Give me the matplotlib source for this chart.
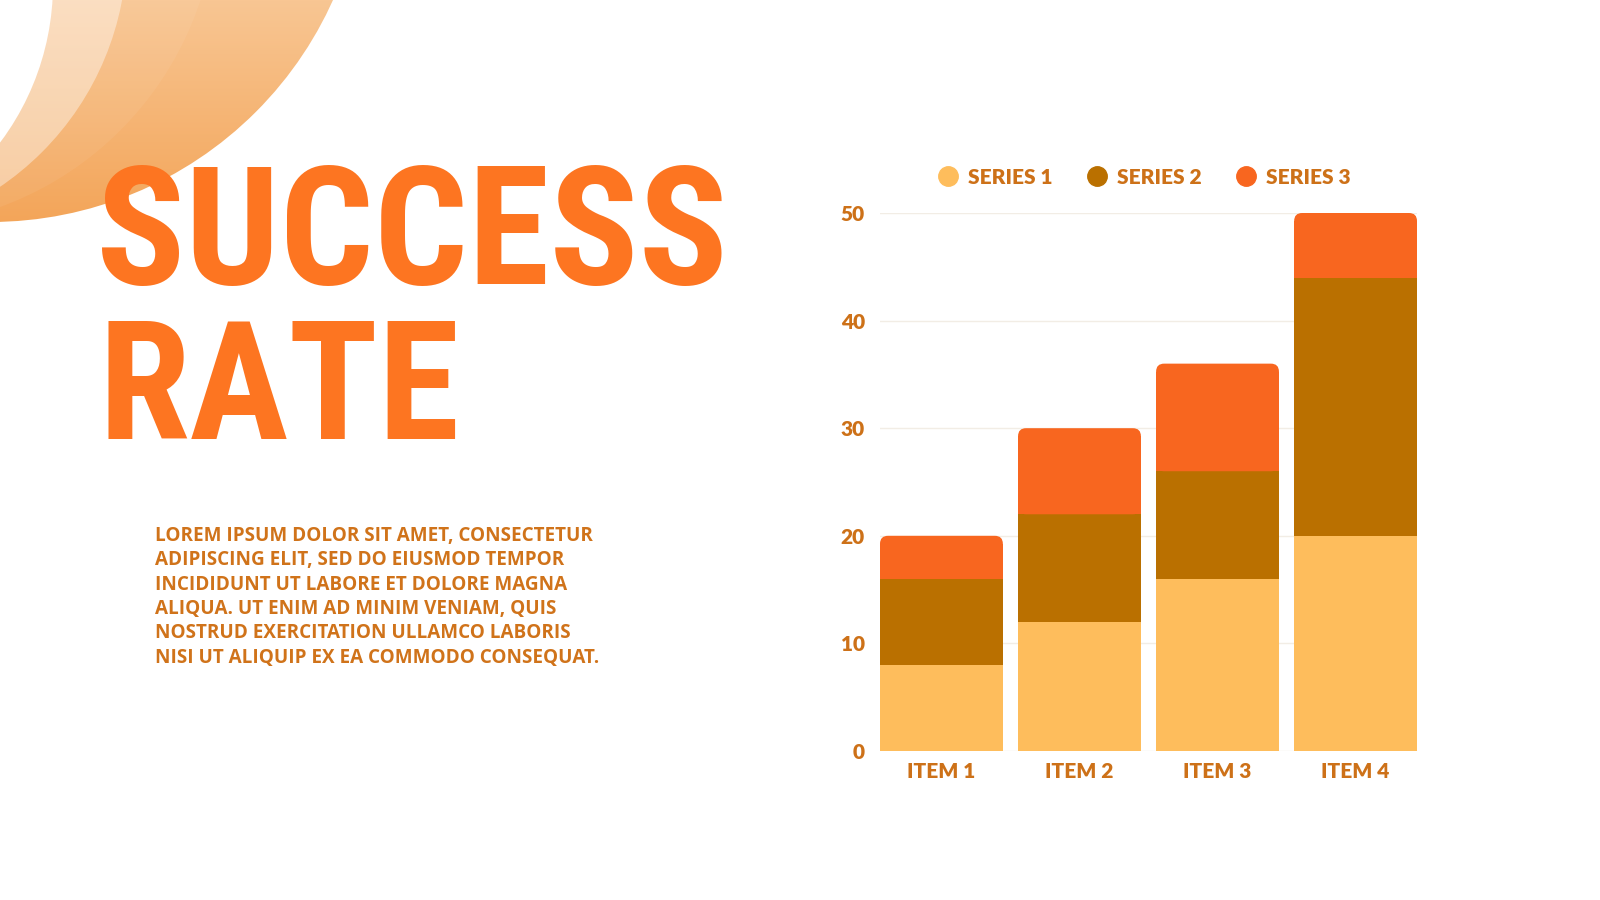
import numpy as np
import matplotlib
matplotlib.use("Agg")
import matplotlib.pyplot as plt
from matplotlib import font_manager as fm
from matplotlib.patches import Circle, FancyBboxPatch
from matplotlib.lines import Line2D

# data
items = ["ITEM 1", "ITEM 2", "ITEM 3", "ITEM 4"]
series_names = ["SERIES 1", "SERIES 2", "SERIES 3"]
series1 = [8, 12, 16, 20]
series2 = [8, 10, 10, 24]
series3 = [4, 8, 10, 6]
yticks = [0, 10, 20, 30, 40, 50]

title_lines = ["SUCCESS", "RATE"]
body_lines = [
    "LOREM IPSUM DOLOR SIT AMET, CONSECTETUR",
    "ADIPISCING ELIT, SED DO EIUSMOD TEMPOR",
    "INCIDIDUNT UT LABORE ET DOLORE MAGNA",
    "ALIQUA. UT ENIM AD MINIM VENIAM, QUIS",
    "NOSTRUD EXERCITATION ULLAMCO LABORIS",
    "NISI UT ALIQUIP EX EA COMMODO CONSEQUAT.",
]

colors = ["#FEBD5C", "#BA7000", "#F8661F"]
label_color = "#CD7118"
title_color = "#FD7521"
body_color = "#D0731A"


def pick(cands):
    names = {f.name for f in fm.fontManager.ttflist}
    for c in cands:
        if c in names:
            return c
    return "DejaVu Sans"


title_font = pick(["Roboto Condensed", "Open Sans Condensed", "Liberation Sans Narrow",
                   "Roboto", "Open Sans"])
body_font = pick(["Open Sans", "Noto Sans", "Lato"])
label_font = pick(["Lato", "Roboto", "Open Sans"])

W, H = 1600, 900
fig = plt.figure(figsize=(16, 9), dpi=100)
fig.patch.set_facecolor("white")

# background layer in pixel coords
bg = fig.add_axes([0, 0, 1, 1], zorder=0)
bg.set_xlim(0, W)
bg.set_ylim(H, 0)
bg.axis("off")

# decorative crescents top-left
yy, xx = np.mgrid[0:240, 0:350]
t = np.clip(yy / 222.0, 0, 1)[..., None]
top_c = np.array([248, 198, 147]) / 255.0
bot_c = np.array([243, 165, 89]) / 255.0
grad = top_c * (1 - t) + bot_c * t
im = bg.imshow(grad, extent=(0, 350, 240, 0), origin="upper", zorder=1, aspect="auto")
outer = Circle((-10, -154), 376, transform=bg.transData)
im.set_clip_path(outer)
bg.add_patch(Circle((-113, -103), 330, facecolor="white", alpha=0.06, lw=0, zorder=2))
bg.add_patch(Circle((-163, -53), 290, facecolor="white", alpha=0.40, lw=0, zorder=3))
bg.add_patch(Circle((-211, -16), 264, facecolor="white", lw=0, zorder=4))
bg.set_xlim(0, W)
bg.set_ylim(H, 0)

# title
bg.text(96, 284, title_lines[0], fontsize=119, fontweight="bold", family=title_font,
        color=title_color, ha="left", va="baseline", zorder=10)
bg.text(99, 439, title_lines[1], fontsize=119, fontweight="bold", family=title_font,
        color=title_color, ha="left", va="baseline", zorder=10)

# body text
for i, line in enumerate(body_lines):
    bg.text(155, 541 + i * 24.3, line, fontsize=13.6, fontweight="bold", family=body_font,
            color=body_color, ha="left", va="baseline", zorder=10)

# chart
ax_l, ax_r, ax_t, ax_b = 880, 1417, 213, 751
ax = fig.add_axes([ax_l / W, 1 - ax_b / H, (ax_r - ax_l) / W, (ax_b - ax_t) / H], zorder=2)
ax.patch.set_alpha(0)

x = np.arange(len(items))
bw = 0.89
ax.set_xlim(-bw / 2, len(items) - 1 + bw / 2)
ax.set_ylim(0, 50)

s1 = np.array(series1)
s2 = np.array(series2)
s3 = np.array(series3)

px_x = (ax_r - ax_l) / (len(items) - 1 + bw)
px_y = (ax_b - ax_t) / 50.0
rad = 8.0
rx = rad / px_x
ry = rad / px_y

ax.bar(x, s1, bw, color=colors[0], zorder=3, linewidth=0)
ax.bar(x, s2, bw, bottom=s1, color=colors[1], zorder=3, linewidth=0)
ax.bar(x, s3 - ry, bw, bottom=s1 + s2, color=colors[2], zorder=3, linewidth=0)
for xi, b, h in zip(x, s1 + s2, s3):
    ax.add_patch(FancyBboxPatch((xi - bw / 2, b), bw, h,
                                boxstyle=f"round,pad=0,rounding_size={rx}",
                                mutation_aspect=ry / rx,
                                facecolor=colors[2], edgecolor="none", zorder=3))

ax.set_yticks(yticks)
ax.set_xticks(x, items)
ax.grid(axis="y", color="#F2EDE5", linewidth=1.0, zorder=0)
ax.set_axisbelow(True)
for sp in ax.spines.values():
    sp.set_visible(False)
ax.tick_params(axis="y", length=0, pad=11, labelsize=15, labelcolor=label_color)
ax.tick_params(axis="x", length=0, pad=8, labelsize=15, labelcolor=label_color)
for lab in ax.get_xticklabels() + ax.get_yticklabels():
    lab.set_family(label_font)
    lab.set_fontweight("heavy")

handles = [Line2D([], [], marker="o", linestyle="none", markersize=14,
                  markerfacecolor=c, markeredgecolor=c) for c in colors]
leg = ax.legend(handles, series_names, loc="center", ncol=3, frameon=False,
                bbox_to_anchor=(0.5 - 4.5 / (ax_r - ax_l), 1 + 36 / (ax_b - ax_t)),
                handlelength=1.0, handletextpad=0.46, columnspacing=1.65,
                prop={"family": label_font, "weight": "heavy", "size": 15})
for txt in leg.get_texts():
    txt.set_color(label_color)

fig.savefig("out.png", dpi=100)
